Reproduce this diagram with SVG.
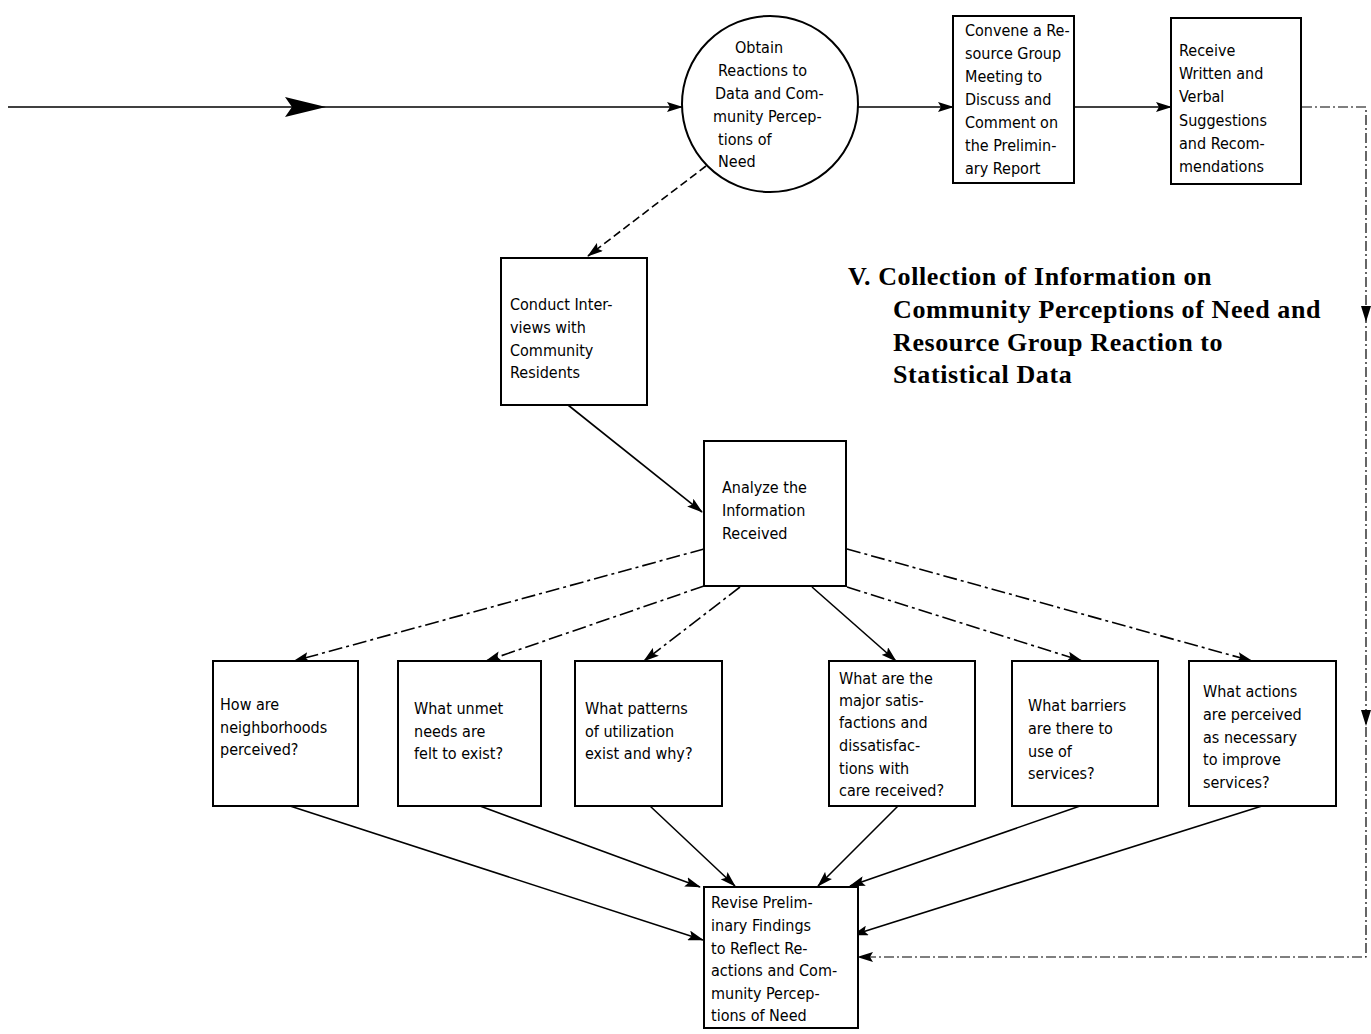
<svg xmlns="http://www.w3.org/2000/svg" width="1371" height="1034" viewBox="0 0 1371 1034">
<defs>
<marker id="ah" viewBox="0 0 16 10" refX="15" refY="5" markerWidth="16" markerHeight="10" markerUnits="userSpaceOnUse" orient="auto">
<path d="M0,0 L16,5 L0,10 L3,5 Z" fill="#000"/>
</marker>
<style>
.box{fill:#fff;stroke:#000;stroke-width:2}
.t{font-family:"DejaVu Sans Condensed","DejaVu Sans","Liberation Sans",sans-serif;font-size:16px;fill:#000}
.title{font-family:"Liberation Serif","Times New Roman",serif;font-size:26px;font-weight:bold;letter-spacing:0.6px;fill:#000}
.c{fill:none;stroke:#000;stroke-width:1.6}
.s{marker-end:url(#ah)}
.dd{stroke-dasharray:14 4 3 4}
.d{stroke-dasharray:8 4}
.lt{stroke-dasharray:10 3 2 3;stroke-width:1.2}
</style>
</defs>
<rect width="1371" height="1034" fill="#fff"/>

<g id="connectors">
<line class="c s" x1="8" y1="107" x2="682" y2="107"/>
<path d="M285,97 L326,107 L285,117 L292,107 Z" fill="#000"/>
<line class="c s" x1="858" y1="107" x2="953" y2="107"/>
<line class="c s" x1="1074" y1="107" x2="1171" y2="107"/>
<path class="c lt" d="M1302,107 L1366,107 L1366,957 L858,957" marker-end="url(#ah)"/>
<path d="M1361,306 L1366,322 L1371,306 Z" fill="#000"/>
<path d="M1361,710 L1366,726 L1371,710 Z" fill="#000"/>
<line class="c s d" x1="706" y1="166" x2="588" y2="256"/>
<line class="c s" x1="568" y1="405" x2="702" y2="512"/>
<line class="c s dd" x1="704" y1="549" x2="294" y2="661"/>
<line class="c s dd" x1="704" y1="586" x2="486" y2="661"/>
<line class="c s dd" x1="740" y1="587" x2="644" y2="661"/>
<line class="c s" x1="812" y1="587" x2="896" y2="661"/>
<line class="c s dd" x1="847" y1="549" x2="1252" y2="661"/>
<line class="c s dd" x1="847" y1="587" x2="1082" y2="661"/>
<line class="c s" x1="290" y1="806" x2="703" y2="940"/>
<line class="c s" x1="480" y1="806" x2="700" y2="887"/>
<line class="c s" x1="650" y1="806" x2="735" y2="886"/>
<line class="c s" x1="898" y1="806" x2="818" y2="886"/>
<line class="c s" x1="1080" y1="806" x2="850" y2="886"/>
<line class="c s" x1="1262" y1="806" x2="853" y2="935"/>
</g>

<g id="obtain">
<circle cx="770" cy="104" r="88" fill="#fff" stroke="#000" stroke-width="2"/>
<text class="t"><tspan x="735" y="53">Obtain</tspan><tspan x="718" y="76">Reactions to</tspan><tspan x="715" y="99">Data and Com-</tspan><tspan x="713" y="122">munity Percep-</tspan><tspan x="718" y="145">tions of</tspan><tspan x="718" y="167">Need</tspan></text>
</g>

<g id="convene">
<rect class="box" x="953" y="16" width="121" height="167"/>
<text class="t"><tspan x="965" y="36">Convene a Re-</tspan><tspan x="965" y="59">source Group</tspan><tspan x="965" y="82">Meeting to</tspan><tspan x="965" y="105">Discuss and</tspan><tspan x="965" y="128">Comment on</tspan><tspan x="965" y="151">the Prelimin-</tspan><tspan x="965" y="174">ary Report</tspan></text>
</g>

<g id="receive">
<rect class="box" x="1171" y="18" width="130" height="166"/>
<text class="t"><tspan x="1179" y="56">Receive</tspan><tspan x="1179" y="79">Written and</tspan><tspan x="1179" y="102">Verbal</tspan><tspan x="1179" y="126">Suggestions</tspan><tspan x="1179" y="149">and Recom-</tspan><tspan x="1179" y="172">mendations</tspan></text>
</g>

<g id="title">
<text class="title"><tspan x="848" y="285">V.  Collection of Information on</tspan><tspan x="893" y="318">Community Perceptions of Need and</tspan><tspan x="893" y="351">Resource Group Reaction to</tspan><tspan x="893" y="383">Statistical Data</tspan></text>
</g>

<g id="conduct">
<rect class="box" x="501" y="258" width="146" height="147"/>
<text class="t"><tspan x="510" y="310">Conduct Inter-</tspan><tspan x="510" y="333">views with</tspan><tspan x="510" y="356">Community</tspan><tspan x="510" y="378">Residents</tspan></text>
</g>

<g id="analyze">
<rect class="box" x="704" y="441" width="142" height="145"/>
<text class="t"><tspan x="722" y="493">Analyze the</tspan><tspan x="722" y="516">Information</tspan><tspan x="722" y="539">Received</tspan></text>
</g>

<g id="q1">
<rect class="box" x="213" y="661" width="145" height="145"/>
<text class="t"><tspan x="220" y="710">How are</tspan><tspan x="220" y="733">neighborhoods</tspan><tspan x="220" y="755">perceived?</tspan></text>
</g>

<g id="q2">
<rect class="box" x="398" y="661" width="143" height="145"/>
<text class="t"><tspan x="414" y="714">What unmet</tspan><tspan x="414" y="737">needs are</tspan><tspan x="414" y="759">felt to exist?</tspan></text>
</g>

<g id="q3">
<rect class="box" x="575" y="661" width="147" height="145"/>
<text class="t"><tspan x="585" y="714">What patterns</tspan><tspan x="585" y="737">of utilization</tspan><tspan x="585" y="759">exist and why?</tspan></text>
</g>

<g id="q4">
<rect class="box" x="829" y="661" width="146" height="145"/>
<text class="t"><tspan x="839" y="684">What are the</tspan><tspan x="839" y="706">major satis-</tspan><tspan x="839" y="728">factions and</tspan><tspan x="839" y="751">dissatisfac-</tspan><tspan x="839" y="774">tions with</tspan><tspan x="839" y="796">care received?</tspan></text>
</g>

<g id="q5">
<rect class="box" x="1012" y="661" width="146" height="145"/>
<text class="t"><tspan x="1028" y="711">What barriers</tspan><tspan x="1028" y="734">are there to</tspan><tspan x="1028" y="757">use of</tspan><tspan x="1028" y="779">services?</tspan></text>
</g>

<g id="q6">
<rect class="box" x="1189" y="661" width="147" height="145"/>
<text class="t"><tspan x="1203" y="697">What actions</tspan><tspan x="1203" y="720">are perceived</tspan><tspan x="1203" y="743">as necessary</tspan><tspan x="1203" y="765">to improve</tspan><tspan x="1203" y="788">services?</tspan></text>
</g>

<g id="revise">
<rect class="box" x="704" y="887" width="154" height="141"/>
<text class="t"><tspan x="711" y="908">Revise Prelim-</tspan><tspan x="711" y="931">inary Findings</tspan><tspan x="711" y="954">to Reflect Re-</tspan><tspan x="711" y="976">actions and Com-</tspan><tspan x="711" y="999">munity Percep-</tspan><tspan x="711" y="1021">tions of Need</tspan></text>
</g>
</svg>
